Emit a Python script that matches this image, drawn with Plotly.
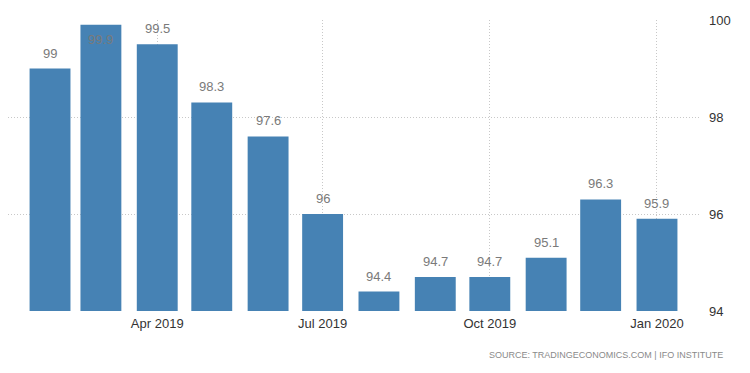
import plotly.graph_objects as go

months = ["2019-02-01", "2019-03-01", "2019-04-01", "2019-05-01", "2019-06-01", "2019-07-01",
          "2019-08-01", "2019-09-01", "2019-10-01", "2019-11-01", "2019-12-01", "2020-01-01"]
values = [99, 99.9, 99.5, 98.3, 97.6, 96, 94.4, 94.7, 94.7, 95.1, 96.3, 95.9]
x_tick_vals = ["2019-04-01", "2019-07-01", "2019-10-01", "2020-01-01"]
x_tick_text = ["Apr 2019", "Jul 2019", "Oct 2019", "Jan 2020"]
y_ticks = [94, 96, 98, 100]
y_min, y_max = 94, 100

FONT = "Liberation Sans, Arial, sans-serif"
DAY_MS = 86400000

fig = go.Figure()
fig.add_trace(go.Bar(
    x=months, y=values,
    width=[22.5 * DAY_MS] * len(months),
    marker=dict(color="#4682B4", line=dict(width=0)),
    hoverinfo="x+y",
))

annotations = []
for m, v in zip(months, values):
    near_top = (y_max - v) < 0.4
    annotations.append(dict(
        x=m, y=v, xref="x", yref="y", text=str(v), showarrow=False,
        yanchor="top" if near_top else "bottom",
        yshift=-5 if near_top else 6,
        font=dict(family=FONT, size=13, color="#7a7a7a"),
    ))
annotations.append(dict(
    x=1.0, y=-0.151, xref="paper", yref="paper", xanchor="right", yanchor="middle",
    xshift=25, showarrow=False,
    text="SOURCE: TRADINGECONOMICS.COM | IFO INSTITUTE",
    font=dict(family=FONT, size=9, color="#8a8a8a"),
))

fig.update_layout(
    width=742, height=365,
    margin=dict(l=0, r=50, t=12, b=62),
    paper_bgcolor="white", plot_bgcolor="white",
    showlegend=False,
    annotations=annotations,
    xaxis=dict(
        type="date",
        range=["2019-01-08 21:00", "2020-01-24 16:00"],
        tickvals=x_tick_vals, ticktext=x_tick_text,
        showgrid=True, gridcolor="#c8c8c8", griddash="1px,2px", gridwidth=1,
        showline=False, zeroline=False, ticks="",
        ticklabelstandoff=3,
        tickfont=dict(family=FONT, size=13, color="#333333"),
    ),
    yaxis=dict(
        side="right", range=[y_min, y_max], tickvals=y_ticks,
        showgrid=True, gridcolor="#c8c8c8", griddash="1px,2px", gridwidth=1,
        showline=False, zeroline=False, ticks="",
        ticklabelstandoff=8,
        tickfont=dict(family=FONT, size=13, color="#333333"),
    ),
)

fig.write_html("out.html")
